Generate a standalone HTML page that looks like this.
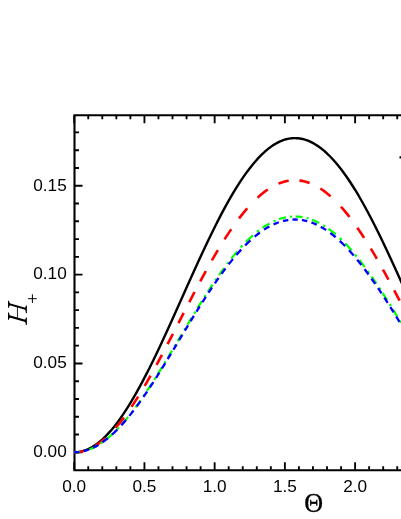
<!DOCTYPE html>
<html><head><meta charset="utf-8"><title>chart</title>
<style>
html,body{margin:0;padding:0;background:#fff;}
body{width:401px;height:519px;overflow:hidden;position:relative;}
.s{font-family:"Liberation Sans",sans-serif;fill:#000;}
.r{font-family:"Liberation Serif",serif;fill:#000;}
</style></head><body>
<svg width="401" height="519" viewBox="0 0 401 519" style="position:absolute;left:0;top:0;will-change:transform">
<rect x="0" y="0" width="401" height="519" fill="#ffffff"/>
<path d="M399.5 157.4 L401 157.4" stroke="#000" stroke-width="2.4"/>
<path d="M74.5 470.2 L74.5 115.3 L420 115.3 M74.5 470.2 L420 470.2" fill="none" stroke="#000" stroke-width="2.1" stroke-linecap="square"/>
<path d="M74.20 470.20 v-8.0 M74.20 115.30 v8.0 M88.25 470.20 v-4.0 M88.25 115.30 v4.0 M102.29 470.20 v-4.0 M102.29 115.30 v4.0 M116.34 470.20 v-4.0 M116.34 115.30 v4.0 M130.38 470.20 v-4.0 M130.38 115.30 v4.0 M144.43 470.20 v-8.0 M144.43 115.30 v8.0 M158.47 470.20 v-4.0 M158.47 115.30 v4.0 M172.51 470.20 v-4.0 M172.51 115.30 v4.0 M186.56 470.20 v-4.0 M186.56 115.30 v4.0 M200.61 470.20 v-4.0 M200.61 115.30 v4.0 M214.65 470.20 v-8.0 M214.65 115.30 v8.0 M228.69 470.20 v-4.0 M228.69 115.30 v4.0 M242.74 470.20 v-4.0 M242.74 115.30 v4.0 M256.79 470.20 v-4.0 M256.79 115.30 v4.0 M270.83 470.20 v-4.0 M270.83 115.30 v4.0 M284.88 470.20 v-8.0 M284.88 115.30 v8.0 M298.92 470.20 v-4.0 M298.92 115.30 v4.0 M312.96 470.20 v-4.0 M312.96 115.30 v4.0 M327.01 470.20 v-4.0 M327.01 115.30 v4.0 M341.06 470.20 v-4.0 M341.06 115.30 v4.0 M355.10 470.20 v-8.0 M355.10 115.30 v8.0 M369.14 470.20 v-4.0 M369.14 115.30 v4.0 M383.19 470.20 v-4.0 M383.19 115.30 v4.0 M397.24 470.20 v-4.0 M397.24 115.30 v4.0 M411.28 470.20 v-4.0 M411.28 115.30 v4.0 M74.50 452.30 h8.0 M74.50 434.53 h4.5 M74.50 416.76 h4.5 M74.50 398.99 h4.5 M74.50 381.22 h4.5 M74.50 363.45 h8.0 M74.50 345.68 h4.5 M74.50 327.91 h4.5 M74.50 310.14 h4.5 M74.50 292.37 h4.5 M74.50 274.60 h8.0 M74.50 256.83 h4.5 M74.50 239.06 h4.5 M74.50 221.29 h4.5 M74.50 203.52 h4.5 M74.50 185.75 h8.0 M74.50 167.98 h4.5 M74.50 150.21 h4.5 M74.50 132.44 h4.5" fill="none" stroke="#000" stroke-width="1.85"/>
<path d="M74.20 452.30 L75.70 452.26 L77.20 452.15 L78.70 451.96 L80.20 451.70 L81.70 451.37 L83.20 450.96 L84.70 450.48 L86.20 449.92 L87.70 449.29 L89.20 448.59 L90.70 447.81 L92.20 446.97 L93.70 446.05 L95.20 445.06 L96.70 443.99 L98.20 442.86 L99.70 441.66 L101.20 440.39 L102.70 439.05 L104.20 437.64 L105.70 436.17 L107.16 434.67 L108.56 433.17 L109.92 431.67 L111.23 430.17 L112.50 428.67 L113.73 427.17 L114.93 425.67 L116.10 424.17 L117.24 422.67 L118.36 421.17 L119.45 419.67 L120.52 418.17 L121.57 416.67 L122.60 415.17 L123.62 413.67 L124.61 412.17 L125.60 410.67 L126.56 409.17 L127.52 407.67 L128.46 406.17 L129.39 404.67 L130.30 403.17 L131.21 401.67 L132.10 400.17 L132.98 398.67 L133.86 397.17 L134.72 395.67 L135.58 394.17 L136.43 392.67 L137.27 391.17 L138.10 389.67 L138.93 388.17 L139.75 386.67 L140.56 385.17 L141.36 383.67 L142.16 382.17 L142.96 380.67 L143.74 379.17 L144.53 377.67 L145.30 376.17 L146.07 374.67 L146.84 373.17 L147.60 371.67 L148.36 370.17 L149.11 368.67 L149.86 367.17 L150.61 365.67 L151.35 364.17 L152.09 362.67 L152.82 361.17 L153.55 359.67 L154.28 358.17 L155.00 356.67 L155.73 355.17 L156.44 353.67 L157.16 352.17 L157.87 350.67 L158.58 349.17 L159.29 347.67 L159.99 346.17 L160.70 344.67 L161.40 343.17 L162.10 341.67 L162.79 340.17 L163.49 338.67 L164.18 337.17 L164.87 335.67 L165.56 334.17 L166.25 332.67 L166.93 331.17 L167.62 329.67 L168.30 328.17 L168.98 326.67 L169.66 325.17 L170.34 323.67 L171.02 322.17 L171.70 320.67 L172.38 319.17 L173.05 317.67 L173.73 316.17 L174.40 314.67 L175.07 313.17 L175.75 311.67 L176.42 310.17 L177.09 308.67 L177.76 307.17 L178.43 305.67 L179.10 304.17 L179.77 302.67 L180.44 301.17 L181.11 299.67 L181.78 298.17 L182.45 296.67 L183.12 295.17 L183.79 293.67 L184.47 292.17 L185.14 290.67 L185.81 289.17 L186.48 287.67 L187.15 286.17 L187.82 284.67 L188.50 283.17 L189.17 281.67 L189.84 280.17 L190.52 278.67 L191.19 277.17 L191.87 275.67 L192.55 274.17 L193.23 272.67 L193.91 271.17 L194.59 269.67 L195.27 268.17 L195.95 266.67 L196.64 265.17 L197.32 263.67 L198.01 262.17 L198.70 260.67 L199.39 259.17 L200.08 257.67 L200.78 256.17 L201.47 254.67 L202.17 253.17 L202.87 251.67 L203.58 250.17 L204.28 248.67 L204.99 247.17 L205.70 245.67 L206.41 244.17 L207.12 242.67 L207.84 241.17 L208.56 239.67 L209.28 238.17 L210.01 236.67 L210.74 235.17 L211.47 233.67 L212.21 232.17 L212.95 230.67 L213.69 229.17 L214.44 227.67 L215.19 226.17 L215.94 224.67 L216.70 223.17 L217.47 221.67 L218.23 220.17 L219.01 218.67 L219.78 217.17 L220.57 215.67 L221.35 214.17 L222.15 212.67 L222.95 211.17 L223.75 209.67 L224.56 208.17 L225.38 206.67 L226.21 205.17 L227.04 203.67 L227.87 202.17 L228.72 200.67 L229.57 199.17 L230.44 197.67 L231.31 196.17 L232.18 194.67 L233.07 193.17 L233.97 191.67 L234.88 190.17 L235.80 188.67 L236.73 187.17 L237.67 185.67 L238.63 184.17 L239.60 182.67 L240.58 181.17 L241.57 179.67 L242.59 178.17 L243.62 176.67 L244.66 175.17 L245.73 173.67 L246.81 172.17 L247.92 170.67 L249.05 169.17 L250.20 167.67 L251.39 166.17 L252.60 164.67 L253.84 163.17 L255.11 161.67 L256.43 160.17 L257.79 158.67 L259.19 157.17 L260.65 155.67 L262.15 154.19 L263.65 152.77 L265.15 151.41 L266.65 150.12 L268.15 148.89 L269.65 147.72 L271.15 146.62 L272.65 145.59 L274.15 144.62 L275.65 143.71 L277.15 142.88 L278.65 142.11 L280.15 141.41 L281.65 140.77 L283.15 140.20 L284.65 139.71 L286.15 139.27 L287.65 138.91 L289.15 138.62 L290.65 138.39 L292.15 138.24 L293.65 138.15 L295.15 138.13 L296.65 138.18 L298.15 138.29 L299.65 138.48 L301.15 138.73 L302.65 139.04 L304.15 139.43 L305.65 139.88 L307.15 140.40 L308.65 140.98 L310.15 141.63 L311.65 142.35 L313.15 143.13 L314.65 143.98 L316.15 144.90 L317.65 145.87 L319.15 146.92 L320.65 148.02 L322.15 149.19 L323.65 150.43 L325.15 151.73 L326.65 153.08 L328.15 154.51 L329.65 155.99 L331.11 157.49 L332.51 158.99 L333.87 160.49 L335.19 161.99 L336.47 163.49 L337.72 164.99 L338.93 166.49 L340.12 167.99 L341.28 169.49 L342.41 170.99 L343.52 172.49 L344.61 173.99 L345.68 175.49 L346.73 176.99 L347.76 178.49 L348.78 179.99 L349.78 181.49 L350.76 182.99 L351.74 184.49 L352.70 185.99 L353.64 187.49 L354.58 188.99 L355.50 190.49 L356.41 191.99 L357.31 193.49 L358.21 194.99 L359.09 196.49 L359.96 197.99 L360.83 199.49 L361.68 200.99 L362.53 202.49 L363.37 203.99 L364.21 205.49 L365.03 206.99 L365.86 208.49 L366.67 209.99 L367.48 211.49 L368.28 212.99 L369.07 214.49 L369.86 215.99 L370.65 217.49 L371.43 218.99 L372.21 220.49 L372.98 221.99 L373.74 223.49 L374.50 224.99 L375.26 226.49 L376.01 227.99 L376.76 229.49 L377.51 230.99 L378.25 232.49 L378.98 233.99 L379.72 235.49 L380.45 236.99 L381.18 238.49 L381.90 239.99 L382.62 241.49 L383.34 242.99 L384.06 244.49 L384.77 245.99 L385.48 247.49 L386.19 248.99 L386.90 250.49 L387.60 251.99 L388.30 253.49 L389.00 254.99 L389.70 256.49 L390.39 257.99 L391.09 259.49 L391.78 260.99 L392.47 262.49 L393.16 263.99 L393.84 265.49 L394.53 266.99 L395.21 268.49 L395.89 269.99 L396.58 271.49 L397.26 272.99 L397.93 274.49 L398.61 275.99 L399.29 277.49 L399.96 278.99 L400.64 280.49 L401.31 281.99 L401.99 283.49 L402.66 284.99 L403.33 286.49 L404.00 287.99 L404.67 289.49 L405.34 290.99 L406.01 292.49 L406.68 293.99 L407.35 295.49 L408.02 296.99 L408.69 298.49 L409.36 299.99 L410.03 301.49 L410.70 302.99 L411.37 304.49" fill="none" stroke="#000000" stroke-width="2.4"/>
<path d="M74.20 452.30 L75.70 452.27 L77.20 452.17 L78.70 452.00 L80.20 451.77 L81.70 451.47 L83.20 451.10 L84.40 450.77 M95.13 445.88 L95.20 445.84 L96.70 444.89 L98.20 443.88 L99.70 442.81 L101.20 441.68 L102.70 440.49 L104.20 439.23 L105.33 438.25 M115.64 427.78 L115.76 427.64 L117.06 426.14 L118.32 424.64 L119.55 423.14 L120.75 421.64 L121.93 420.14 L123.08 418.64 L123.89 417.58 M131.52 406.85 L131.66 406.64 L132.67 405.14 L133.66 403.64 L134.64 402.14 L135.61 400.64 L136.57 399.14 L137.52 397.64 L138.14 396.65 M144.65 385.92 L144.82 385.64 L145.70 384.14 L146.57 382.64 L147.44 381.14 L148.30 379.64 L149.16 378.14 L150.01 376.64 L150.53 375.72 M156.47 364.99 L156.66 364.64 L157.48 363.14 L158.29 361.64 L159.10 360.14 L159.91 358.64 L160.71 357.14 L161.51 355.64 L161.96 354.79 M167.62 344.06 L167.84 343.64 L168.62 342.14 L169.40 340.64 L170.18 339.14 L170.96 337.64 L171.74 336.14 L172.51 334.64 L172.92 333.86 M178.45 323.13 L178.70 322.64 L179.48 321.14 L180.25 319.64 L181.02 318.14 L181.79 316.64 L182.57 315.14 L183.34 313.64 L183.71 312.93 M189.26 302.20 L189.55 301.64 L190.33 300.14 L191.12 298.64 L191.90 297.14 L192.69 295.64 L193.47 294.14 L194.26 292.64 L194.60 292.00 M200.31 281.27 L200.65 280.64 L201.46 279.14 L202.27 277.64 L203.09 276.14 L203.91 274.64 L204.73 273.14 L205.56 271.64 L205.87 271.07 M211.91 260.34 L212.31 259.64 L213.18 258.14 L214.05 256.64 L214.93 255.14 L215.81 253.64 L216.70 252.14 L217.60 250.64 L217.90 250.14 M224.53 239.41 L225.02 238.64 L225.99 237.14 L226.96 235.64 L227.95 234.14 L228.95 232.64 L229.96 231.14 L230.98 229.64 L231.27 229.21 M239.02 218.48 L239.66 217.64 L240.83 216.14 L242.01 214.64 L243.22 213.14 L244.45 211.64 L245.71 210.14 L247.00 208.64 L247.31 208.28 M257.56 197.69 L258.47 196.86 L259.97 195.54 L261.47 194.27 L262.97 193.06 L264.47 191.89 L265.97 190.78 L267.47 189.72 L267.76 189.53 M278.49 183.64 L279.47 183.25 L280.97 182.69 L282.47 182.19 L283.97 181.75 L285.47 181.36 L286.97 181.03 L288.47 180.76 L288.69 180.72 M299.42 180.51 L300.47 180.65 L301.97 180.89 L303.47 181.20 L304.97 181.56 L306.47 181.97 L307.97 182.45 L309.47 182.98 L309.62 183.04 M320.35 188.51 L321.47 189.25 L322.97 190.28 L324.47 191.36 L325.97 192.50 L327.47 193.69 L328.97 194.94 L330.47 196.24 L330.55 196.31 M340.97 206.74 L342.02 207.93 L343.32 209.43 L344.60 210.93 L345.84 212.43 L347.06 213.93 L348.26 215.43 L349.43 216.93 L349.44 216.94 M357.30 227.67 L358.18 228.93 L359.20 230.43 L360.22 231.93 L361.22 233.43 L362.21 234.93 L363.19 236.43 L364.12 237.87 M370.82 248.60 L371.62 249.93 L372.52 251.43 L373.41 252.93 L374.29 254.43 L375.17 255.93 L376.05 257.43 L376.84 258.80 M382.91 269.53 L383.69 270.93 L384.52 272.43 L385.34 273.93 L386.16 275.43 L386.98 276.93 L387.80 278.43 L388.50 279.73 M394.23 290.46 L395.00 291.93 L395.79 293.43 L396.58 294.93 L397.37 296.43 L398.15 297.93 L398.94 299.43 L399.58 300.66 M405.14 311.39 L405.16 311.43 L405.93 312.93 L406.71 314.43 L407.48 315.93 L408.25 317.43 L409.02 318.93 L409.80 320.43 L410.39 321.59" fill="none" stroke="#ff0000" stroke-width="2.6"/>
<path d="M74.20 452.30 L75.70 452.27 L77.20 452.18 L78.70 452.04 L80.00 451.87 M84.10 451.04 L84.70 450.88 L86.00 450.51 M89.54 449.28 L90.70 448.80 L92.20 448.14 L93.70 447.43 L95.20 446.66 L96.54 445.92 M100.64 443.40 L101.20 443.03 L102.54 442.10 M106.08 439.45 L107.20 438.55 L108.70 437.31 L110.20 436.01 L111.70 434.66 L113.08 433.38 M117.16 429.36 L117.67 428.84 L118.98 427.46 M122.21 423.92 L123.16 422.84 L124.46 421.34 L125.73 419.84 L126.98 418.34 L128.14 416.92 M131.39 412.82 L131.76 412.34 L132.85 410.92 M135.51 407.38 L136.27 406.34 L137.37 404.84 L138.45 403.34 L139.52 401.84 L140.55 400.38 M143.39 396.28 L143.69 395.84 L144.68 394.38 M147.06 390.84 L147.72 389.84 L148.71 388.34 L149.69 386.84 L150.67 385.34 L151.63 383.84 M154.26 379.74 L154.51 379.34 L155.46 377.84 M157.67 374.30 L158.27 373.34 L159.20 371.84 L160.13 370.34 L161.05 368.84 L161.97 367.34 L162.00 367.30 M164.50 363.20 L164.71 362.84 L165.62 361.34 L165.65 361.30 M167.78 357.76 L168.34 356.84 L169.24 355.34 L170.13 353.84 L171.03 352.34 L171.93 350.84 L171.98 350.76 M174.42 346.66 L174.61 346.34 L175.50 344.84 L175.55 344.76 M177.65 341.22 L178.17 340.34 L179.06 338.84 L179.96 337.34 L180.85 335.84 L181.74 334.34 L181.81 334.22 M184.25 330.12 L184.41 329.84 L185.31 328.34 L185.38 328.22 M187.49 324.68 L188.00 323.84 L188.89 322.34 L189.79 320.84 L190.70 319.34 L191.60 317.84 L191.70 317.68 M194.18 313.58 L194.33 313.34 L195.24 311.84 L195.34 311.68 M197.51 308.14 L198.00 307.34 L198.93 305.84 L199.86 304.34 L200.79 302.84 L201.73 301.34 L201.85 301.14 M204.44 297.04 L204.56 296.84 L205.52 295.34 L205.65 295.14 M207.92 291.60 L208.41 290.84 L209.39 289.34 L210.37 287.84 L211.36 286.34 L212.36 284.84 L212.52 284.60 M215.28 280.50 L215.39 280.34 L216.42 278.84 L216.58 278.60 M219.04 275.06 L219.55 274.34 L220.61 272.84 L221.69 271.34 L222.77 269.84 L223.87 268.34 L224.07 268.06 M227.14 263.96 L227.23 263.84 L228.38 262.34 L228.59 262.06 M231.37 258.52 L231.91 257.84 L233.13 256.34 L234.36 254.84 L235.61 253.34 L236.89 251.84 L237.16 251.52 M240.79 247.42 L240.86 247.34 L242.24 245.84 L242.54 245.52 M245.94 241.98 L246.57 241.34 L248.07 239.86 L249.57 238.43 L251.07 237.03 L252.57 235.68 L252.93 235.36 M257.03 231.91 L257.07 231.88 L258.57 230.70 L258.93 230.42 M262.47 227.85 L263.07 227.43 L264.57 226.44 L266.07 225.48 L267.57 224.58 L269.07 223.72 L269.47 223.50 M273.57 221.43 L275.07 220.76 L275.47 220.59 M279.01 219.23 L279.57 219.04 L281.07 218.56 L282.57 218.14 L284.07 217.76 L285.57 217.43 L286.01 217.34 M290.11 216.74 L291.57 216.61 L292.01 216.58 M295.55 216.50 L296.07 216.51 L297.57 216.58 L299.07 216.69 L300.57 216.86 L302.07 217.07 L302.55 217.15 M306.65 218.03 L308.07 218.42 L308.55 218.56 M312.09 219.76 L312.57 219.95 L314.07 220.55 L315.57 221.20 L317.07 221.91 L318.57 222.65 L319.09 222.93 M323.19 225.26 L324.57 226.12 L325.09 226.46 M328.63 228.89 L329.07 229.21 L330.57 230.33 L332.07 231.49 L333.57 232.70 L335.07 233.95 L335.63 234.43 M339.73 238.12 L341.07 239.39 L341.63 239.93 M345.14 243.45 L345.52 243.85 L346.94 245.35 L348.33 246.85 L349.69 248.35 L351.02 249.85 L351.55 250.45 M355.04 254.55 L356.11 255.85 L356.60 256.45 M359.43 259.99 L359.72 260.35 L360.88 261.85 L362.04 263.35 L363.18 264.85 L364.30 266.35 L364.78 266.99 M367.77 271.09 L368.68 272.35 L369.13 272.99 M371.62 276.53 L371.85 276.85 L372.88 278.35 L373.91 279.85 L374.93 281.35 L375.95 282.85 L376.40 283.53 M379.13 287.63 L379.93 288.85 L380.37 289.53 M382.67 293.07 L382.85 293.35 L383.81 294.85 L384.76 296.35 L385.72 297.85 L386.66 299.35 L387.12 300.07 M389.68 304.17 L390.41 305.35 L390.85 306.07 M393.03 309.61 L393.18 309.85 L394.10 311.35 L395.01 312.85 L395.92 314.35 L396.83 315.85 L397.29 316.61 M399.77 320.71 L400.45 321.85 L400.91 322.61 M403.02 326.15 L403.14 326.35 L404.04 327.85 L404.93 329.35 L405.83 330.85 L406.72 332.35 L407.19 333.15 M409.63 337.25 L410.28 338.35 L410.76 339.15" fill="none" stroke="#00ff00" stroke-width="2.2"/>
<path d="M74.20 452.30 L75.70 452.27 L77.20 452.19 L78.70 452.04 L79.50 451.94 M83.67 451.16 L84.70 450.90 L86.20 450.47 L87.70 449.99 L88.97 449.53 M93.13 447.77 L93.70 447.49 L95.20 446.73 L96.70 445.91 L98.20 445.05 L98.43 444.91 M102.59 442.19 L102.70 442.12 L104.20 441.04 L105.70 439.91 L107.20 438.73 L107.90 438.16 M112.06 434.56 L113.20 433.51 L114.70 432.09 L116.20 430.62 L117.35 429.46 M121.29 425.30 L121.91 424.62 L123.25 423.12 L124.56 421.62 L125.85 420.12 L125.95 420.00 M129.40 415.83 L129.56 415.62 L130.76 414.12 L131.94 412.62 L133.11 411.12 L133.56 410.53 M136.69 406.37 L137.61 405.12 L138.70 403.62 L139.78 402.12 L140.53 401.07 M143.46 396.90 L144.00 396.12 L145.03 394.62 L146.05 393.12 L147.06 391.62 L147.07 391.60 M149.85 387.44 L150.06 387.12 L151.04 385.62 L152.02 384.12 L153.00 382.62 L153.31 382.14 M155.98 377.97 L156.84 376.62 L157.79 375.12 L158.73 373.62 L159.33 372.67 M161.92 368.51 L162.47 367.62 L163.40 366.12 L164.32 364.62 L165.19 363.21 M167.74 359.04 L168.00 358.62 L168.91 357.12 L169.82 355.62 L170.73 354.12 L170.96 353.74 M173.48 349.58 L174.35 348.12 L175.26 346.62 L176.16 345.12 L176.67 344.28 M179.17 340.11 L179.77 339.12 L180.67 337.62 L181.57 336.12 L182.36 334.81 M184.87 330.65 L185.19 330.12 L186.10 328.62 L187.00 327.12 L187.91 325.62 L188.08 325.35 M190.61 321.18 L190.65 321.12 L191.57 319.62 L192.48 318.12 L193.40 316.62 L193.86 315.88 M196.43 311.72 L197.11 310.62 L198.05 309.12 L198.99 307.62 L199.74 306.42 M202.38 302.25 L202.78 301.62 L203.74 300.12 L204.70 298.62 L205.67 297.12 L205.78 296.95 M208.50 292.79 L208.60 292.62 L209.59 291.12 L210.59 289.62 L211.60 288.12 L212.02 287.49 M214.86 283.32 L215.68 282.12 L216.73 280.62 L217.78 279.12 L218.55 278.02 M221.54 273.86 L222.08 273.12 L223.18 271.62 L224.29 270.12 L225.42 268.62 L225.47 268.56 M228.68 264.39 L228.89 264.12 L230.07 262.62 L231.27 261.12 L232.49 259.62 L232.93 259.09 M236.44 254.93 L237.58 253.62 L238.90 252.12 L240.26 250.62 L241.17 249.63 M245.15 245.46 L245.99 244.62 L247.49 243.15 L248.99 241.71 L250.45 240.36 M254.62 236.70 L254.99 236.39 L256.49 235.17 L257.99 233.99 L259.49 232.85 L259.92 232.54 M264.08 229.65 L265.49 228.75 L266.99 227.84 L268.49 226.97 L269.38 226.48 M273.55 224.40 L274.49 223.98 L275.99 223.34 L277.49 222.76 L278.85 222.27 M283.01 221.02 L283.49 220.90 L284.99 220.56 L286.49 220.27 L287.99 220.02 L288.31 219.97 M292.48 219.57 L292.49 219.57 L293.99 219.52 L295.49 219.52 L296.99 219.56 L297.78 219.61 M301.94 220.06 L302.99 220.24 L304.49 220.53 L305.99 220.87 L307.24 221.19 M311.41 222.49 L311.99 222.70 L313.49 223.28 L314.99 223.91 L316.49 224.58 L316.71 224.68 M320.87 226.82 L320.99 226.89 L322.49 227.75 L323.99 228.65 L325.49 229.61 L326.17 230.05 M330.34 232.99 L331.49 233.87 L332.99 235.04 L334.49 236.26 L335.64 237.22 M339.80 240.92 L340.49 241.57 L341.99 243.00 L343.49 244.47 L344.98 245.97 L345.09 246.08 M349.03 250.24 L349.24 250.47 L350.59 251.97 L351.93 253.47 L353.23 254.97 L353.73 255.54 M357.21 259.71 L358.24 260.97 L359.44 262.47 L360.63 263.97 L361.44 265.01 M364.63 269.17 L365.23 269.97 L366.34 271.47 L367.45 272.97 L368.54 274.47 L368.54 274.47 M371.52 278.64 L371.75 278.97 L372.80 280.47 L373.85 281.97 L374.88 283.47 L375.20 283.94 M378.03 288.10 L378.94 289.47 L379.94 290.97 L380.93 292.47 L381.55 293.40 M384.26 297.57 L384.84 298.47 L385.80 299.97 L386.76 301.47 L387.65 302.87 M390.28 307.03 L390.55 307.47 L391.49 308.97 L392.43 310.47 L393.36 311.97 L393.59 312.33 M396.16 316.50 L397.06 317.97 L397.98 319.47 L398.89 320.97 L399.40 321.80 M401.93 325.96 L402.54 326.97 L403.45 328.47 L404.35 329.97 L405.13 331.26 M407.64 335.43 L407.97 335.97 L408.87 337.47 L409.77 338.97 L410.68 340.47 L410.83 340.73" fill="none" stroke="#0000ff" stroke-width="2.3"/>
<text x="74.20" y="491.5" font-size="17.2" text-anchor="middle" class="s">0.0</text>
<text x="144.43" y="491.5" font-size="17.2" text-anchor="middle" class="s">0.5</text>
<text x="214.65" y="491.5" font-size="17.2" text-anchor="middle" class="s">1.0</text>
<text x="284.88" y="491.5" font-size="17.2" text-anchor="middle" class="s">1.5</text>
<text x="355.10" y="491.5" font-size="17.2" text-anchor="middle" class="s">2.0</text>
<text x="66.7" y="457.05" font-size="17.2" text-anchor="end" class="s">0.00</text>
<text x="66.7" y="368.20" font-size="17.2" text-anchor="end" class="s">0.05</text>
<text x="66.7" y="279.35" font-size="17.2" text-anchor="end" class="s">0.10</text>
<text x="66.7" y="190.50" font-size="17.2" text-anchor="end" class="s">0.15</text>
<text transform="translate(313.65 511.85) scale(0.975 1)" x="0" y="0" font-size="26.8" text-anchor="middle" class="r" stroke="#000" stroke-width="0.3">&#920;</text>
<path d="M8.00 300.80 L9.00 300.80 Q9.05 303.08 10.40 303.46 L24.50 307.43 Q25.85 307.81 25.90 305.60 L26.90 305.60 L26.90 313.30 L25.90 313.30 Q25.85 309.97 24.50 309.59 L10.40 305.62 Q9.05 305.24 9.00 307.80 L8.00 307.80 Z M8.00 312.50 L9.00 312.50 Q9.05 315.18 10.40 315.56 L24.50 319.53 Q25.85 319.91 25.90 317.50 L26.90 317.50 L26.90 324.90 L25.90 324.90 Q25.85 322.07 24.50 321.69 L10.40 317.72 Q9.05 317.34 9.00 319.80 L8.00 319.80 Z" fill="#000" stroke="none"/>
<path d="M17.45 306.5 V318.5" stroke="#000" stroke-width="0.85" fill="none"/>
<path d="M32.4 294.3 v8.7 M28.05 298.7 h8.7" stroke="#000" stroke-width="1" fill="none"/>
</svg>
</body></html>
